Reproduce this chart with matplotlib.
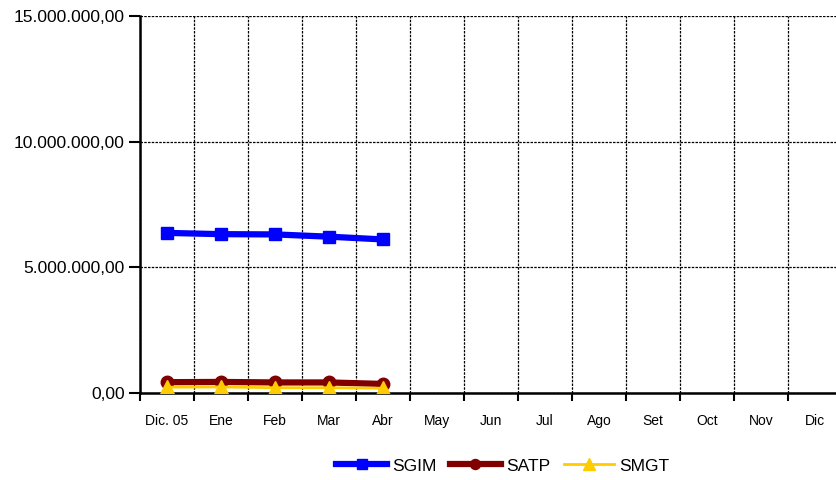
import matplotlib
matplotlib.use('Agg')
import matplotlib.pyplot as plt
import numpy as np
from matplotlib import ticker as mtick

plt.rcParams['font.family'] = ['Liberation Sans', 'DejaVu Sans']

meses = ['Dic. 05', 'Ene', 'Feb', 'Mar', 'Abr', 'May', 'Jun', 'Jul', 'Ago', 'Set', 'Oct', 'Nov', 'Dic']
sgim = [6370000, 6320000, 6310000, 6220000, 6110000]
satp = [430000, 440000, 420000, 420000, 360000]
smgt = [230000, 240000, 210000, 210000, 190000]

def fmt_es(v, pos):
    s = '{:,.2f}'.format(v)
    return s.replace(',', 'X').replace('.', ',').replace('X', '.')

fig = plt.figure(figsize=(8.36, 4.8), dpi=100)
ax = fig.add_axes([140/836, 1-393/480, 702/836, 377/480])

x = np.arange(len(sgim)) + 0.5
ax.plot(x, sgim, '-s', color='#0000ff', lw=4.5, ms=9, mec='#0000ff', label='SGIM', zorder=5)
ax.plot(x, satp, '-o', color='#800000', lw=4.5, ms=9, label='SATP', zorder=4)
ax.plot(x, smgt, '-^', color='#ffcc00', lw=2, ms=10, label='SMGT', zorder=6)

ax.set_xlim(0, len(meses))
ax.set_ylim(0, 15000000)
ax.set_yticks([0, 5000000, 10000000, 15000000])
ax.yaxis.set_major_formatter(mtick.FuncFormatter(fmt_es))
ax.set_xticks(np.arange(len(meses) + 1))
ax.set_xticklabels([])
ax.set_xticks(np.arange(len(meses)) + 0.5, minor=True)
ax.set_xticklabels(meses, minor=True, fontsize=10)
ax.tick_params(axis='x', which='minor', length=0, pad=15)
ax.tick_params(axis='x', which='major', length=6, width=1.5, direction='out')
ax.tick_params(axis='y', length=8, width=1.5, direction='out', labelsize=12.5, pad=3)

ax.grid(True, which='major', color='black', linestyle=(0, (2, 1)), lw=0.9)
ax.spines['top'].set_visible(False)
ax.spines['right'].set_visible(False)
ax.spines['left'].set_linewidth(1.8)
ax.spines['bottom'].set_linewidth(1.8)

leg = fig.legend(loc='center', bbox_to_anchor=(503/836, 1-466/480), ncol=3, frameon=False,
                 fontsize=12.5, handlelength=2.9, columnspacing=0.8, handletextpad=0.3, markerscale=0.8)

plt.savefig('out.png', dpi=100)
